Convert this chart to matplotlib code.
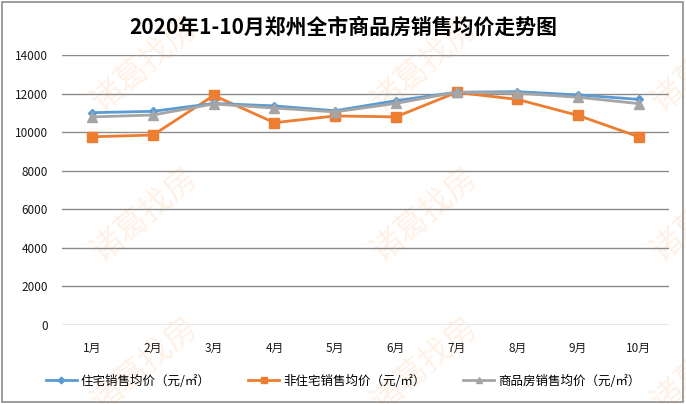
import matplotlib
matplotlib.use("Agg")
import matplotlib.pyplot as plt
from matplotlib.patches import Rectangle

plt.rcParams['font.family'] = ['Noto Sans CJK SC', 'DejaVu Sans']

# ── data ──
months = ["1月", "2月", "3月", "4月", "5月", "6月", "7月", "8月", "9月", "10月"]
residential = [11010, 11080, 11490, 11360, 11110, 11630, 12070, 12100, 11930, 11700]
non_residential = [9760, 9850, 11900, 10490, 10840, 10790, 12060, 11700, 10870, 9760]
commercial = [10790, 10890, 11460, 11250, 11050, 11490, 12070, 12020, 11810, 11480]

series_labels = ["住宅销售均价（元/㎡）", "非住宅销售均价（元/㎡）", "商品房销售均价（元/㎡）"]
colors = ["#5B9BD5", "#ED7D31", "#A5A5A5"]

W, H = 686, 404
fig = plt.figure(figsize=(W / 100, H / 100), dpi=100, facecolor="white")

# watermark (partly cut off at the figure edge, as in the source image)
for cx in [145, 425, 705]:
    for cy in [65, 215, 365]:
        fig.text(cx / W, 1 - cy / H, "诸葛找房", fontsize=23, color="#FEF1E6",
                 rotation=40, ha="center", va="center", zorder=-5)

# outer frame
fig.patches.append(Rectangle((2 / W, 2 / H), (W - 5) / W, (H - 4) / H,
                             transform=fig.transFigure, fill=False,
                             edgecolor="#8C8C8C", lw=1.2, zorder=10))

ax = fig.add_axes([62 / W, 1 - 325 / H, (669 - 62) / W, (325 - 55) / H])
ax.patch.set_alpha(0)
ax.set_zorder(1)

x = range(len(months))
ax.plot(x, residential, color=colors[0], lw=2, marker="D", ms=4.5, label=series_labels[0], zorder=4)
ax.plot(x, non_residential, color=colors[1], lw=2, marker="s", ms=6.5, label=series_labels[1], zorder=3)
ax.plot(x, commercial, color=colors[2], lw=2, marker="^", ms=6.5, label=series_labels[2], zorder=5)

ax.set_xlim(-0.5, len(months) - 0.5)
ax.set_ylim(0, 14000)
ax.set_yticks(range(0, 14001, 2000))
ax.set_xticks(list(x))
ax.set_xticklabels(months)
ax.yaxis.grid(True, color="#8C8C8C", lw=1)
ax.set_axisbelow(True)
for sp in ax.spines.values():
    sp.set_visible(False)
ax.tick_params(length=0, labelsize=8.5, colors="#1a1a1a")
ax.tick_params(axis="x", pad=12)
ax.tick_params(axis="y", pad=10)

fig.text(0.5, 1 - 27 / H, "2020年1-10月郑州全市商品房销售均价走势图",
         ha="center", va="center", fontsize=15, fontweight="bold", color="black")

leg = fig.legend(loc="center", bbox_to_anchor=(0.5, 1 - 381 / H), ncol=3, frameon=False,
                 fontsize=9, handlelength=2.5, columnspacing=3.0, handletextpad=0.3,
                 markerscale=0.75)
leg.set_zorder(2)

fig.savefig("out.png", dpi=100, facecolor="white")
